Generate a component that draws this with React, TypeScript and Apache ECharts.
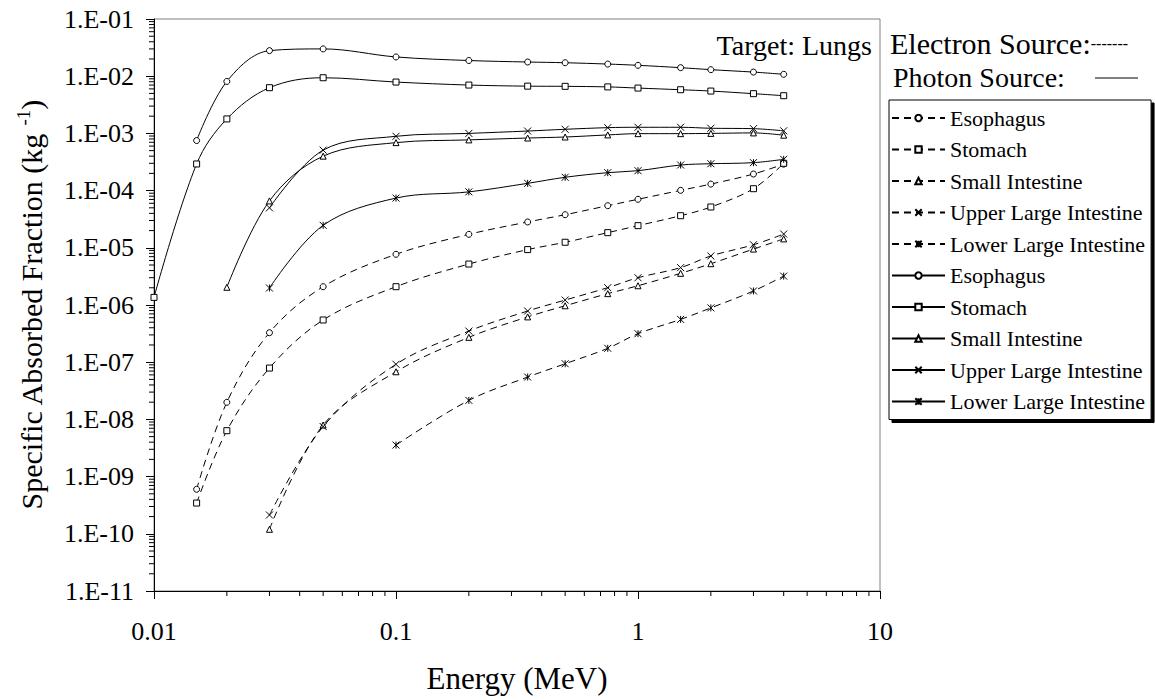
import React, { useEffect, useRef } from 'react';
import * as echarts from 'echarts';

// ---------- data ----------
const energies = [0.01, 0.015, 0.02, 0.03, 0.05, 0.1, 0.2, 0.35, 0.5, 0.75, 1, 1.5, 2, 3, 4];
const organs = ['Esophagus', 'Stomach', 'Small Intestine', 'Upper Large Intestine', 'Lower Large Intestine'];

// Electron source (dashed)
const electronEsophagus = [null, 6.0e-10, 1.99e-8, 3.28e-7, 2.09e-6, 7.7e-6, 1.72e-5, 2.83e-5, 3.79e-5, 5.45e-5, 7.05e-5, 1.01e-4, 1.3e-4, 1.95e-4, 2.9e-4];
const electronStomach = [null, 3.45e-10, 6.35e-9, 7.9e-8, 5.47e-7, 2.09e-6, 5.2e-6, 9.3e-6, 1.25e-5, 1.84e-5, 2.44e-5, 3.64e-5, 5.17e-5, 1.08e-4, 3.0e-4];
const electronSmallIntestine = [null, null, null, 1.2e-10, 7.98e-9, 6.8e-8, 2.72e-7, 6.2e-7, 9.7e-7, 1.58e-6, 2.17e-6, 3.58e-6, 5.27e-6, 9.5e-6, 1.43e-5];
const electronUpperLI = [null, null, null, 2.13e-10, 7.5e-9, 9.2e-8, 3.5e-7, 7.85e-7, 1.22e-6, 2.01e-6, 3.0e-6, 4.5e-6, 7.2e-6, 1.13e-5, 1.74e-5];
const electronLowerLI = [null, null, null, null, null, 3.56e-9, 2.15e-8, 5.5e-8, 9.4e-8, 1.75e-7, 3.15e-7, 5.6e-7, 8.9e-7, 1.76e-6, 3.2e-6];

// Photon source (solid)
const photonEsophagus = [null, 7.5e-4, 8.1e-3, 2.8e-2, 3.0e-2, 2.17e-2, 1.88e-2, 1.77e-2, 1.72e-2, 1.63e-2, 1.55e-2, 1.41e-2, 1.3e-2, 1.18e-2, 1.08e-2];
const photonStomach = [1.36e-6, 2.92e-4, 1.79e-3, 6.3e-3, 9.4e-3, 7.9e-3, 7.0e-3, 6.7e-3, 6.65e-3, 6.5e-3, 6.2e-3, 5.8e-3, 5.5e-3, 4.95e-3, 4.56e-3];
const photonSmallIntestine = [null, null, 2.04e-6, 6.6e-5, 4.0e-4, 6.9e-4, 7.7e-4, 8.3e-4, 8.65e-4, 9.4e-4, 9.9e-4, 9.9e-4, 1.0e-3, 1.02e-3, 9.3e-4];
const photonUpperLI = [null, null, null, 5.0e-5, 5.1e-4, 8.9e-4, 1.0e-3, 1.1e-3, 1.18e-3, 1.26e-3, 1.28e-3, 1.28e-3, 1.23e-3, 1.21e-3, 1.11e-3];
const photonLowerLI = [null, null, null, 1.98e-6, 2.47e-5, 7.4e-5, 9.5e-5, 1.34e-4, 1.71e-4, 2.06e-4, 2.23e-4, 2.8e-4, 2.95e-4, 3.08e-4, 3.52e-4];

const xMin = 0.01;
const xMax = 10;
const yMin = 1e-11;
const yMax = 0.1;

const FONT = 'Liberation Serif, Times New Roman, serif';
const SYMBOLS = [
  'circle',
  'rect',
  'triangle',
  'path://M0,0L10,10M10,0L0,10',
  'path://M0,0L10,10M10,0L0,10M5,0L5,10',
];

function toPairs(values: (number | null)[]) {
  return energies.map((e, i) => [e, values[i]]).filter((d) => d[1] != null);
}

function makeSeries(prefix: string, values: (number | null)[], idx: number, dashed: boolean) {
  return {
    type: 'line',
    name: prefix + organs[idx],
    data: toPairs(values),
    smooth: 0.35,
    symbol: SYMBOLS[idx],
    symbolSize: idx >= 3 ? 7 : 6,
    showAllSymbol: true,
    lineStyle: { color: '#000', width: 1, type: dashed ? [7, 5] : 'solid' },
    itemStyle: { color: '#fff', borderColor: '#000', borderWidth: 1 },
    emphasis: { disabled: true },
    z: 3,
  };
}

function expLabel(v: number) {
  const e = Math.round(Math.log10(v));
  return '1.E' + (e < 0 ? '-' : '+') + String(Math.abs(e)).padStart(2, '0');
}

function xLabel(v: number) {
  const e = Math.round(Math.log10(v));
  return e < 0 ? Math.pow(10, e).toFixed(-e) : String(Math.round(Math.pow(10, e)));
}

export default function App() {
  const ref = useRef<HTMLDivElement>(null);
  useEffect(() => {
    const chart = echarts.init(ref.current!, null, { renderer: 'svg' });

    const yMinor: number[][] = [];
    for (let k = -11; k < -1; k++) for (let m = 2; m <= 9; m++) yMinor.push([xMin, m * Math.pow(10, k)]);
    const xMinor: number[][] = [];
    for (let k = -2; k < 1; k++) for (let m = 2; m <= 9; m++) xMinor.push([m * Math.pow(10, k), yMin]);

    const electronAll = [electronEsophagus, electronStomach, electronSmallIntestine, electronUpperLI, electronLowerLI];
    const photonAll = [photonEsophagus, photonStomach, photonSmallIntestine, photonUpperLI, photonLowerLI];

    const series: any[] = [];
    electronAll.forEach((v, i) => series.push(makeSeries('e:', v, i, true)));
    photonAll.forEach((v, i) => series.push(makeSeries('p:', v, i, false)));

    series.push({
      type: 'custom',
      name: 'yMinor',
      silent: true,
      data: yMinor,
      renderItem: (params: any, api: any) => {
        const p = api.coord([api.value(0), api.value(1)]);
        return { type: 'line', shape: { x1: p[0] - 5, y1: p[1], x2: p[0], y2: p[1] }, style: { stroke: '#000', lineWidth: 1 } };
      },
    });
    series.push({
      type: 'custom',
      name: 'xMinor',
      silent: true,
      data: xMinor,
      renderItem: (params: any, api: any) => {
        const p = api.coord([api.value(0), api.value(1)]);
        return { type: 'line', shape: { x1: p[0], y1: p[1], x2: p[0], y2: p[1] + 5 }, style: { stroke: '#000', lineWidth: 1 } };
      },
    });

    const legendNames = [...organs.map((o) => 'e:' + o), ...organs.map((o) => 'p:' + o)];

    chart.setOption({
      animation: false,
      backgroundColor: '#fff',
      textStyle: { fontFamily: FONT, color: '#000' },
      grid: {
        left: 154,
        right: 275,
        top: 19,
        bottom: 109,
        show: true,
        borderColor: '#808080',
        borderWidth: 1,
        backgroundColor: 'transparent',
      },
      xAxis: {
        type: 'log',
        logBase: 10,
        min: xMin,
        max: xMax,
        name: 'Energy (MeV)',
        nameLocation: 'middle',
        nameGap: 72,
        nameTextStyle: { fontFamily: FONT, fontSize: 31, color: '#000' },
        axisLine: { lineStyle: { color: '#000', width: 1 } },
        axisTick: { show: true, length: 8, lineStyle: { color: '#000' } },
        axisLabel: { fontFamily: FONT, fontSize: 26, color: '#000', margin: 27, formatter: (v: number) => xLabel(v) },
        splitLine: { show: false },
      },
      yAxis: {
        type: 'log',
        logBase: 10,
        min: yMin,
        max: yMax,
        interval: 1,
        splitNumber: 10,
        name: 'Specific Absorbed Fraction (kg {sup|-1})',
        nameLocation: 'middle',
        nameGap: 106,
        nameRotate: 90,
        nameTextStyle: {
          fontFamily: FONT,
          fontSize: 30,
          color: '#000',
          rich: { sup: { fontFamily: FONT, fontSize: 19, color: '#000', padding: [0, 0, 15, 0] } },
        },
        axisLine: { lineStyle: { color: '#000', width: 1 } },
        axisTick: { show: true, length: 8, lineStyle: { color: '#000' } },
        axisLabel: { fontFamily: FONT, fontSize: 26, color: '#000', margin: 20, formatter: (v: number) => expLabel(v) },
        splitLine: { show: false },
      },
      legend: {
        data: legendNames,
        orient: 'vertical',
        left: 889,
        top: 100,
        itemWidth: 53,
        itemHeight: 8,
        itemGap: 9.5,
        padding: [7, 6, 7, 2],
        backgroundColor: '#fff',
        borderColor: '#000',
        borderWidth: 1,
        shadowColor: '#000',
        shadowBlur: 0,
        shadowOffsetX: 3,
        shadowOffsetY: 3,
        selectedMode: false,
        formatter: (name: string) => name.slice(2),
        textStyle: { fontFamily: FONT, fontSize: 22, color: '#000', padding: [0, 0, 0, 0] },
      },
      graphic: [
        {
          type: 'text',
          right: 1155 - 872,
          top: 31,
          style: { text: 'Target: Lungs', fontFamily: FONT, fontSize: 28, fill: '#000' },
        },
        {
          type: 'text',
          left: 890,
          top: 28,
          style: {
            text: 'Electron Source:{d|-------}',
            fontFamily: FONT,
            fontSize: 30,
            fill: '#000',
            rich: { d: { fontFamily: FONT, fontSize: 16, fill: '#000' } },
          },
        },
        {
          type: 'text',
          left: 893,
          top: 63,
          style: { text: 'Photon Source:', fontFamily: FONT, fontSize: 28, fill: '#000' },
        },
        {
          type: 'line',
          shape: { x1: 1095, y1: 78, x2: 1138, y2: 78 },
          style: { stroke: '#000', lineWidth: 1.2 },
        },
      ],
      series,
    });
    return () => chart.dispose();
  }, []);
  return <div ref={ref} style={{ position: 'fixed', left: 0, top: 0, width: 1155, height: 700, background: '#fff' }} />;
}
